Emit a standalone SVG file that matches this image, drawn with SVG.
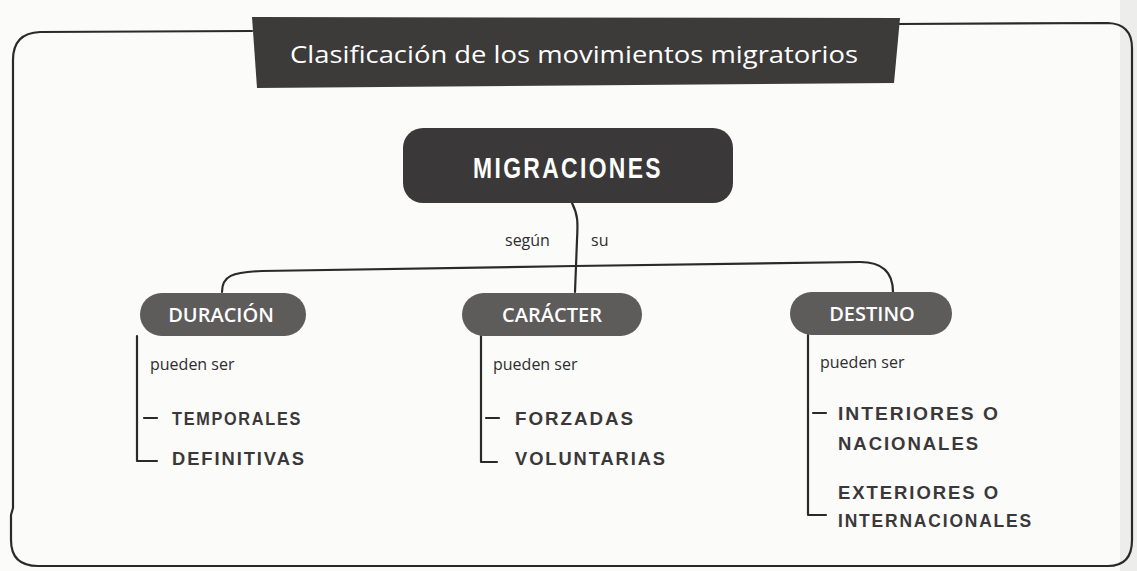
<svg xmlns="http://www.w3.org/2000/svg" width="1137" height="571" viewBox="0 0 1137 571">
<style>
.line{fill:none;stroke:#2a2a2a;stroke-width:2.2;stroke-linecap:round;stroke-linejoin:round}
.pill{fill:#5e5b5b}
.pilltxt{font-family:"Open Sans","Liberation Sans",sans-serif;font-size:20px;font-weight:600;fill:#ffffff;text-anchor:middle}
.small{font-family:"Open Sans","Liberation Sans",sans-serif;font-size:16px;fill:#2e2e2e}
.hand{font-family:"Liberation Sans","DejaVu Sans",sans-serif;font-size:19px;font-weight:bold;fill:#3a3838;letter-spacing:2px}
</style>
<rect x="0" y="0" width="1137" height="571" fill="#fbfbfa"/>
<rect x="1120" y="0" width="17" height="571" fill="#ededec"/>
<g id="frame">
<path class="line" d="M252,31 L40,32 Q13,33 13,60 L13,508 L11,515 L11,540 Q11,566 38,566 L1108,566 Q1132,566 1132,540 L1132,48 Q1132,24 1108,23 L898,24"/>
</g>
<g id="title">
<polygon points="252,17 900,18 894,83 257,88" fill="#3d3a3a"/>
<text x="574" y="63" font-family="'Open Sans','Liberation Sans',sans-serif" font-size="23" font-weight="500" fill="#ffffff" text-anchor="middle" textLength="568" lengthAdjust="spacingAndGlyphs">Clasificación de los movimientos migratorios</text>
</g>
<g id="connectors">
<path class="line" d="M572,203 C578,215 578,222 577,240 L575,292"/>
<path class="line" d="M222,292 C222,276 232,272 262,271 L575,266 L860,262 C884,262 893,274 893,292"/>
<path class="line" d="M137,336 L137,461 L157,461 M144,418 L157,418"/>
<path class="line" d="M481,336 L481,462 L497,462 M486,418 L499,418"/>
<path class="line" d="M808,335 L808,515 L826,515 M813,413 L826,413"/>
</g>
<g id="migraciones">
<rect x="403" y="128" width="330" height="75" rx="20" fill="#3a3838"/>
<text x="568" y="178" font-family="'Liberation Sans','DejaVu Sans',sans-serif" font-size="29" font-weight="bold" fill="#ffffff" text-anchor="middle" letter-spacing="3" textLength="190" lengthAdjust="spacingAndGlyphs">MIGRACIONES</text>
</g>
<g id="labels">
<text class="small" x="505" y="246">según</text>
<text class="small" x="591" y="246">su</text>
</g>
<g id="duracion">
<rect class="pill" x="140" y="293" width="166" height="43" rx="21.5"/>
<text class="pilltxt" x="221" y="322">DURACIÓN</text>
<text class="small" x="150" y="370">pueden ser</text>
<text class="hand" x="172" y="425" textLength="130" lengthAdjust="spacingAndGlyphs">TEMPORALES</text>
<text class="hand" x="172" y="465" textLength="134" lengthAdjust="spacingAndGlyphs">DEFINITIVAS</text>
</g>
<g id="caracter">
<rect class="pill" x="462" y="293" width="180" height="43" rx="21.5"/>
<text class="pilltxt" x="552" y="322">CARÁCTER</text>
<text class="small" x="493" y="370">pueden ser</text>
<text class="hand" x="515" y="425" textLength="120" lengthAdjust="spacingAndGlyphs">FORZADAS</text>
<text class="hand" x="515" y="465" textLength="152" lengthAdjust="spacingAndGlyphs">VOLUNTARIAS</text>
</g>
<g id="destino">
<rect class="pill" x="790" y="292" width="162" height="43" rx="21.5"/>
<text class="pilltxt" x="872" y="321">DESTINO</text>
<text class="small" x="820" y="368">pueden ser</text>
<text class="hand" x="838" y="420" textLength="162" lengthAdjust="spacingAndGlyphs">INTERIORES O</text>
<text class="hand" x="838" y="450" textLength="142" lengthAdjust="spacingAndGlyphs">NACIONALES</text>
<text class="hand" x="838" y="499" textLength="162" lengthAdjust="spacingAndGlyphs">EXTERIORES O</text>
<text class="hand" x="838" y="527" textLength="195" lengthAdjust="spacingAndGlyphs">INTERNACIONALES</text>
</g>
</svg>
